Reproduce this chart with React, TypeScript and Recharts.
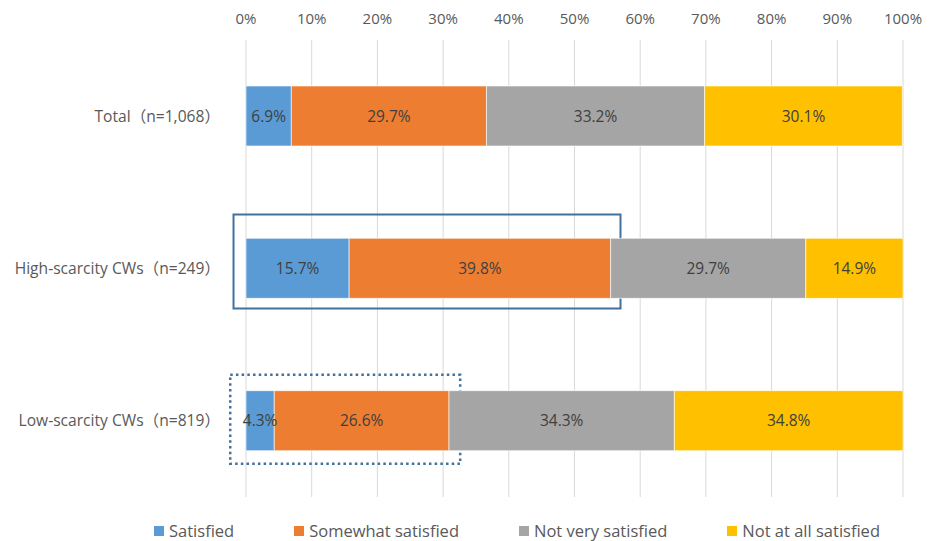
import { BarChart, Bar, XAxis, YAxis, CartesianGrid, LabelList, ReferenceArea } from "recharts";

const categories = ["Total（n=1,068）", "High-scarcity CWs（n=249）", "Low-scarcity CWs（n=819）"];
const satisfied = [6.9, 15.7, 4.3];
const somewhatSatisfied = [29.7, 39.8, 26.6];
const notVerySatisfied = [33.2, 29.7, 34.3];
const notAtAllSatisfied = [30.1, 14.9, 34.8];
const xTicks = [0, 10, 20, 30, 40, 50, 60, 70, 80, 90, 100];

const series = [
  { key: "satisfied", name: "Satisfied", color: "#5B9BD5" },
  { key: "somewhat", name: "Somewhat satisfied", color: "#ED7D31" },
  { key: "notVery", name: "Not very satisfied", color: "#A5A5A5" },
  { key: "notAtAll", name: "Not at all satisfied", color: "#FFC000" },
];

const data = categories.map((name, i) => ({
  name,
  satisfied: satisfied[i],
  somewhat: somewhatSatisfied[i],
  notVery: notVerySatisfied[i],
  notAtAll: notAtAllSatisfied[i],
}));

// highlight boxes around the first two segments of a row
const highlights = [
  { category: categories[1], from: -1.9, to: 57.0, above: 54, below: 40, dash: undefined as string | undefined, width: 2 },
  { category: categories[2], from: -2.4, to: 32.6, above: 46, below: 43, dash: "2.5 3.2", width: 2.5 },
];

const FONT = "'Open Sans', 'Noto Sans CJK SC', sans-serif";
const TEXT = "#595959";

function CategoryTick(props: any) {
  const { y, payload } = props;
  return (
    <text x={220} y={y} dy="0.35em" textAnchor="end" fill={TEXT} fontSize={15.6} fontFamily={FONT}>
      {payload.value}
    </text>
  );
}

function PercentTick(props: any) {
  const { x, payload } = props;
  return (
    <text x={x} y={24} textAnchor="middle" fill={TEXT} fontSize={15} fontFamily={FONT}>
      {payload.value}%
    </text>
  );
}

function boxShape(h: (typeof highlights)[number]) {
  return (p: any) => {
    const cy = p.y + p.height / 2;
    return (
      <rect
        x={p.x}
        y={cy - h.above}
        width={p.width}
        height={h.above + h.below}
        fill="none"
        stroke="#41719C"
        strokeWidth={h.width}
        strokeDasharray={h.dash}
      />
    );
  };
}

export default function App() {
  return (
    <div style={{ position: "absolute", left: 0, top: 0, width: 929, height: 541, background: "#fff", fontFamily: FONT }}>
      <BarChart
        width={929}
        height={541}
        data={data}
        layout="vertical"
        barSize={60}
        margin={{ top: 0, right: 26, bottom: 44, left: 0 }}
      >
        <CartesianGrid horizontal={false} stroke="#D9D9D9" strokeWidth={1} />
        <XAxis
          type="number"
          orientation="top"
          domain={[0, 100]}
          ticks={xTicks}
          allowDataOverflow
          height={40}
          axisLine={false}
          tickLine={false}
          tick={<PercentTick />}
          interval={0}
        />
        <YAxis
          type="category"
          dataKey="name"
          width={246}
          axisLine={false}
          tickLine={false}
          tick={<CategoryTick />}
        />
        {series.map((s) => (
          <Bar key={s.key} dataKey={s.key} name={s.name} stackId="a" fill={s.color} stroke="#fff" strokeWidth={0.6} isAnimationActive={false}>
            <LabelList
              dataKey={s.key}
              position="center"
              formatter={(v: any) => `${v}%`}
              fill="#404040"
              fontSize={15.5}
              fontFamily={FONT}
            />
          </Bar>
        ))}
        {highlights.map((h) => (
          <ReferenceArea
            key={h.category}
            x1={h.from}
            x2={h.to}
            y1={h.category}
            y2={h.category}
            ifOverflow="visible"
            shape={boxShape(h)}
          />
        ))}
      </BarChart>
      <div style={{ position: "absolute", left: 154, top: 519, display: "flex", gap: 60, fontSize: 16.5, color: TEXT, whiteSpace: "nowrap" }}>
        {series.map((s) => (
          <div key={s.key} style={{ display: "flex", alignItems: "center" }}>
            <span style={{ width: 10, height: 10, background: s.color, marginRight: 5, display: "inline-block" }} />
            <span>{s.name}</span>
          </div>
        ))}
      </div>
    </div>
  );
}
